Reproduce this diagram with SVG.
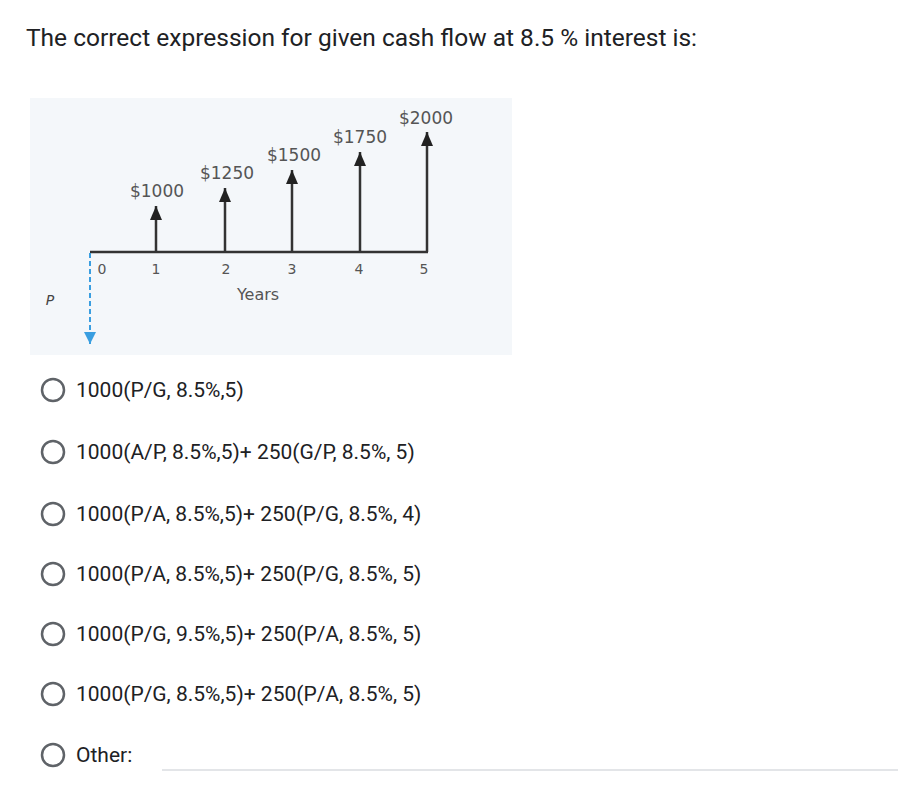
<svg xmlns="http://www.w3.org/2000/svg" width="916" height="794" viewBox="0 0 916 794">
<style>
.t{font-family:Roboto,"Liberation Sans",sans-serif;fill:#202124}
.o{font-size:21px}
.c{fill:none;stroke:#5f6368;stroke-width:2.5}
.d{font-family:"DejaVu Sans",sans-serif;fill:#555;font-size:17px;text-anchor:middle}
.a{stroke:#333;stroke-width:2.5}
</style>
<defs>
<marker id="bh" viewBox="0 0 10 10" refX="10" refY="5" markerWidth="12" markerHeight="12" markerUnits="userSpaceOnUse" orient="auto"><path d="M0,0 L10,5 L0,10z" fill="#3a9ee0"/></marker>
<marker id="up" viewBox="0 0 10 10" refX="5" refY="0" markerWidth="12" markerHeight="14" markerUnits="userSpaceOnUse" orient="0" preserveAspectRatio="none"><path d="M0,10 L5,0 L10,10z" fill="#222"/></marker></defs>
<rect width="916" height="794" fill="#fff"/>
<text class="t" x="26" y="46" font-size="24.5">The correct expression for given cash flow at 8.5 % interest is:</text>
<g id="chart">
<rect x="30" y="98" width="482" height="257" fill="#f4f7fa"/>
<g id="connectors">
<line class="a" x1="90" y1="252" x2="428" y2="252"/>
<line class="a" x1="156" y1="252" x2="156" y2="206" marker-end="url(#up)"/>
<line class="a" x1="225" y1="252" x2="225" y2="188" marker-end="url(#up)"/>
<line class="a" x1="292" y1="252" x2="292" y2="170" marker-end="url(#up)"/>
<line class="a" x1="360" y1="252" x2="360" y2="152" marker-end="url(#up)"/>
<line class="a" x1="427" y1="252" x2="427" y2="132" marker-end="url(#up)"/>
<line x1="90" y1="253" x2="90" y2="344" stroke="#3a9ee0" stroke-width="2" stroke-dasharray="5,3" marker-end="url(#bh)"/>
</g>
<text class="d" x="157" y="197">$1000</text>
<text class="d" x="227" y="179">$1250</text>
<text class="d" x="294" y="161">$1500</text>
<text class="d" x="360" y="143">$1750</text>
<text class="d" x="426" y="124">$2000</text>
<g class="d" style="font-size:14px"><text x="102" y="274">0</text><text x="156" y="274">1</text><text x="226" y="274">2</text><text x="292" y="274">3</text><text x="359" y="274">4</text><text x="424" y="274">5</text></g>
<text class="d" x="258" y="300" style="font-size:16px" fill="#444">Years</text>
<text x="50" y="305" font-family="DejaVu Sans,sans-serif" font-size="14" font-style="italic" fill="#444" text-anchor="middle">P</text>
</g>
<g id="options">
<circle class="c" cx="53" cy="390" r="11"/><text class="t o" x="76" y="397">1000(P/G, 8.5%,5)</text>
<circle class="c" cx="53" cy="452" r="11"/><text class="t o" x="76" y="459">1000(A/P, 8.5%,5)+ 250(G/P, 8.5%, 5)</text>
<circle class="c" cx="53" cy="514" r="11"/><text class="t o" x="76" y="521">1000(P/A, 8.5%,5)+ 250(P/G, 8.5%, 4)</text>
<circle class="c" cx="53" cy="574" r="11"/><text class="t o" x="76" y="581">1000(P/A, 8.5%,5)+ 250(P/G, 8.5%, 5)</text>
<circle class="c" cx="53" cy="634" r="11"/><text class="t o" x="76" y="641">1000(P/G, 9.5%,5)+ 250(P/A, 8.5%, 5)</text>
<circle class="c" cx="53" cy="694" r="11"/><text class="t o" x="76" y="701">1000(P/G, 8.5%,5)+ 250(P/A, 8.5%, 5)</text>
<circle class="c" cx="53" cy="755" r="11"/><text class="t o" x="76" y="762">Other:</text>
<line x1="162" y1="770" x2="898" y2="770" stroke="#dadce0" stroke-width="1.5"/>
</g>
</svg>
